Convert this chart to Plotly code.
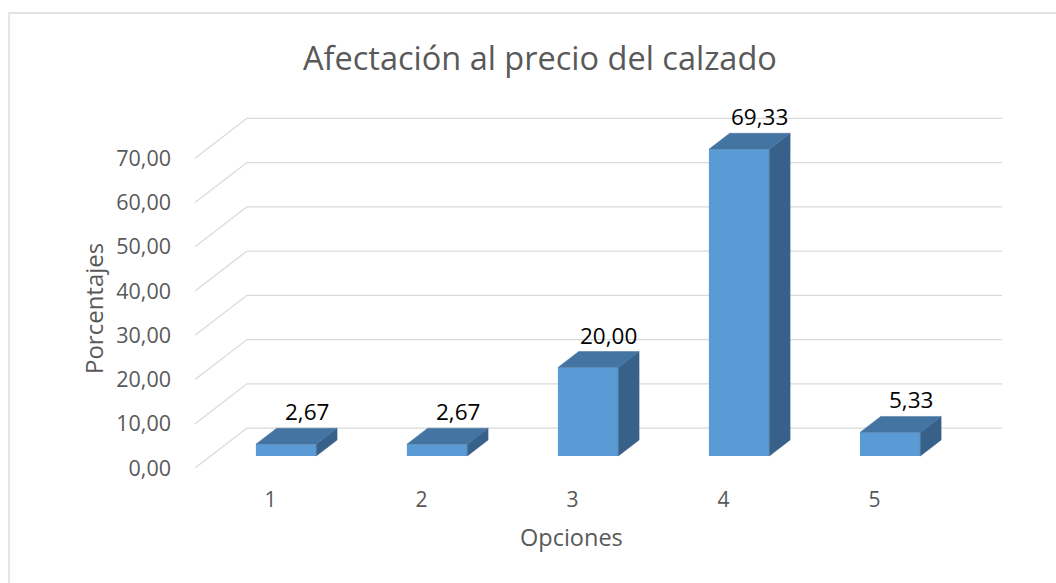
import plotly.graph_objects as go

# Survey results: share of answers per option (percent)
opciones = [1, 2, 3, 4, 5]
porcentajes = [2.67, 2.67, 20.00, 69.33, 5.33]
tick_vals = [0, 10, 20, 30, 40, 50, 60, 70]

titulo = "Afectación al precio del calzado"
titulo_y = "Porcentajes"
titulo_x = "Opciones"

# Oblique 3D projection: depth 0 (front) .. 1 (back wall)
DX = 0.344      # horizontal shift of the back wall, in category units
DY = 9.03       # vertical shift of the back wall, in value units
FRONT, BACK = 0.3, 0.7   # depth of bar front / back faces
HALF = 0.2               # half bar width, in category units

X0, X1 = 0.5, len(opciones) + 0.5

FONT = "Open Sans, sans-serif"
GREY = "#595959"
GRID = "#D9D9D9"
C_FRONT = "#5B9BD5"
C_TOP = "#4474A1"
C_SIDE = "#386189"

# Page geometry (pixels)
W, H = 1056, 583
ML, MR, MT, MB = 195, 54, 114, 115
PW, PH = W - ML - MR, H - MT - MB


def px_x(px):
    return (px - ML) / PW


def px_y(py):
    return (H - MB - py) / PH


fig = go.Figure()

# Side-wall and back-wall gridlines, kept beneath the bars
for t in tick_vals:
    fig.add_shape(
        type="path", xref="x", yref="y", layer="below",
        path=f"M {X0},{t} L {X0 + DX},{t + DY} L {X1 + DX},{t + DY}",
        line=dict(color=GRID, width=1.3))

# Bars: right side face, top face, then the front face
for c, v in zip(opciones, porcentajes):
    xr_f = c + HALF + FRONT * DX
    xr_b = c + HALF + BACK * DX
    xl_f = c - HALF + FRONT * DX
    xl_b = c - HALF + BACK * DX
    fig.add_trace(go.Scatter(
        x=[xr_f, xr_f, xr_b, xr_b, xr_f],
        y=[FRONT * DY, v + FRONT * DY, v + BACK * DY, BACK * DY, FRONT * DY],
        fill="toself", fillcolor=C_SIDE, mode="lines",
        line=dict(color=C_SIDE, width=0.5),
        hoverinfo="skip", showlegend=False))
    fig.add_trace(go.Scatter(
        x=[xl_f, xr_f, xr_b, xl_b, xl_f],
        y=[v + FRONT * DY, v + FRONT * DY, v + BACK * DY, v + BACK * DY, v + FRONT * DY],
        fill="toself", fillcolor=C_TOP, mode="lines",
        line=dict(color=C_TOP, width=0.5),
        hoverinfo="skip", showlegend=False))

fig.add_trace(go.Bar(
    x=[c + FRONT * DX for c in opciones], y=porcentajes,
    base=[FRONT * DY] * len(opciones), width=2 * HALF,
    marker=dict(color=C_FRONT, line=dict(width=0)),
    showlegend=False))

# Value labels above each bar
for c, v in zip(opciones, porcentajes):
    fig.add_annotation(
        x=c + BACK * DX, y=v + BACK * DY, text=f"{v:.2f}".replace(".", ","),
        showarrow=False, xanchor="center", yanchor="bottom", yshift=-1,
        font=dict(family=FONT, size=22.5, color="black"))

# Chart border (runs off the right and bottom edges)
fig.add_shape(type="rect", xref="paper", yref="paper",
              x0=px_x(9), x1=px_x(1070), y0=px_y(13), y1=px_y(600),
              line=dict(color=GRID, width=1.3), fillcolor="rgba(0,0,0,0)",
              layer="below")

# Titles
fig.add_annotation(xref="paper", yref="paper", x=px_x(540), y=px_y(58),
                   xanchor="center", yanchor="middle",
                   text=titulo, showarrow=False,
                   font=dict(family=FONT, size=32.5, color=GREY))
fig.add_annotation(xref="paper", yref="paper", x=px_x(571), y=px_y(537),
                   xanchor="center", yanchor="middle",
                   text=titulo_x, showarrow=False,
                   font=dict(family=FONT, size=23.5, color=GREY))
fig.add_annotation(xref="paper", yref="paper", x=px_x(93), y=px_y(309),
                   xanchor="center", yanchor="middle",
                   text=titulo_y, showarrow=False, textangle=-90,
                   font=dict(family=FONT, size=24, color=GREY))

fig.update_layout(
    width=W, height=H,
    margin=dict(l=ML, r=MR, t=MT, b=MB),
    paper_bgcolor="white", plot_bgcolor="rgba(0,0,0,0)",
    separators=",.",
    xaxis=dict(range=[X0, X1 + DX], tickvals=opciones,
               ticktext=[str(c) for c in opciones],
               showgrid=False, zeroline=False, showline=False,
               ticks="", ticklabelstandoff=17,
               tickfont=dict(family=FONT, size=21, color=GREY)),
    yaxis=dict(range=[0, PH / 4.425], tickvals=tick_vals, tickformat=".2f",
               showgrid=False, zeroline=False, showline=False,
               ticks="", ticklabelstandoff=23,
               tickfont=dict(family=FONT, size=21.5, color=GREY)),
)

fig.write_html("out.html")
